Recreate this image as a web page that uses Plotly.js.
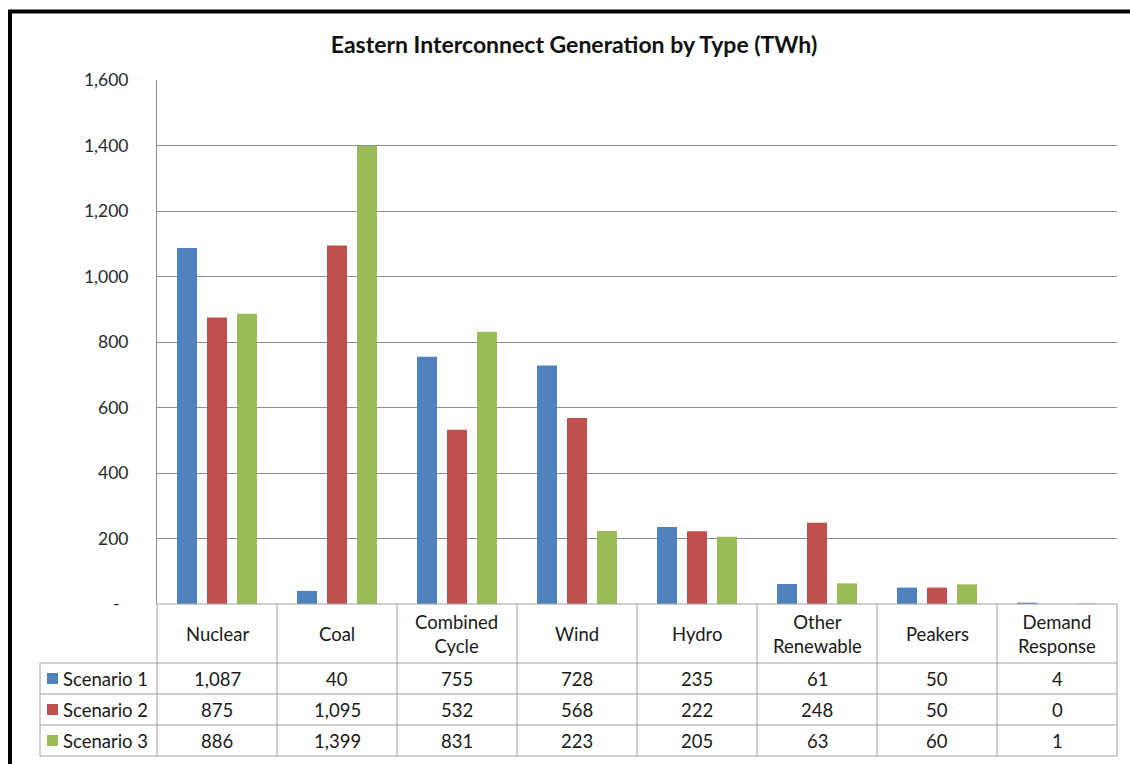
<!DOCTYPE html>
<html>
<head>
<meta charset="utf-8">
<script src="https://cdn.plot.ly/plotly-3.0.1.min.js"></script>
<style>
  html, body { margin: 0; padding: 0; background: #fff; }
  #chart { width: 1130px; height: 764px; }
</style>
</head>
<body>
<div id="chart"></div>
<script>
// Generation by resource type, TWh, for three scenarios
const categories = ["Nuclear", "Coal", "Combined Cycle", "Wind", "Hydro", "Other Renewable", "Peakers", "Demand Response"];
const headerLines = [["Nuclear"], ["Coal"], ["Combined", "Cycle"], ["Wind"], ["Hydro"], ["Other", "Renewable"], ["Peakers"], ["Demand", "Response"]];
const scenario1 = [1087, 40, 755, 728, 235, 61, 50, 4];
const scenario2 = [875, 1095, 532, 568, 222, 248, 50, 0];
const scenario3 = [886, 1399, 831, 223, 205, 63, 60, 1];
const seriesNames = ["Scenario 1", "Scenario 2", "Scenario 3"];
const yTickVals = [0, 200, 400, 600, 800, 1000, 1200, 1400, 1600];
const yTickText = ["-\u00a0\u00a0", "200", "400", "600", "800", "1,000", "1,200", "1,400", "1,600"];

const colors = ["#4F81BD", "#C0504D", "#9BBB59"];
const seriesValues = [scenario1, scenario2, scenario3];

const W = 1130, H = 764;
const px = x => x / W;
const py = y => 1 - y / H;

// plot frame and table geometry in pixels
const plotL = 157, plotR = 1117, plotT = 80, plotB = 604;
const colW = (plotR - plotL) / categories.length;
const rowLines = [604, 663, 694, 725, 756];
const tableL = 40;
const gridColor = "#8c8c8c";
const tableLine = "#a0a0a0";
const font = "Lato, 'Open Sans', sans-serif";
const textColor = "#1a1a1a";

const traces = seriesValues.map((vals, i) => ({
  type: "bar",
  name: seriesNames[i],
  x: categories,
  y: vals,
  marker: { color: colors[i] },
  hoverinfo: "x+y+name"
}));

const shapes = [];
const annotations = [];
const line = (x0, y0, x1, y1, color, width) => shapes.push({
  type: "line", xref: "paper", yref: "paper",
  x0: px(x0), y0: py(y0), x1: px(x1), y1: py(y1),
  line: { color: color, width: width }
});

// outer frame (top and left edges)
line(8, 11.5, W, 11.5, "#000", 4);
line(10, 10, 10, H, "#000", 4);

// table: horizontal rules
line(plotL, rowLines[0], plotR, rowLines[0], tableLine, 1);
for (let r = 1; r < rowLines.length; r++) line(tableL, rowLines[r], plotR, rowLines[r], tableLine, 1);
// table: vertical rules
line(tableL, rowLines[1], tableL, rowLines[4], tableLine, 1);
for (let c = 0; c <= categories.length; c++) {
  const x = plotL + c * colW;
  line(x, rowLines[0], x, rowLines[4], tableLine, 1);
}

// header labels
headerLines.forEach((lines, c) => {
  const cx = plotL + (c + 0.5) * colW;
  const cy = (rowLines[0] + rowLines[1]) / 2;
  annotations.push({
    xref: "paper", yref: "paper", x: px(cx), y: py(cy),
    text: lines.join("<br>"), showarrow: false,
    xanchor: "center", yanchor: "middle",
    font: { family: font, size: 18.5, color: textColor }
  });
});

// data rows with legend keys
seriesValues.forEach((vals, r) => {
  const cy = (rowLines[r + 1] + rowLines[r + 2]) / 2;
  shapes.push({
    type: "rect", xref: "paper", yref: "paper",
    x0: px(47), x1: px(58), y0: py(cy - 5.5), y1: py(cy + 5.5),
    fillcolor: colors[r], line: { width: 0 }
  });
  annotations.push({
    xref: "paper", yref: "paper", x: px(61), y: py(cy),
    text: seriesNames[r], showarrow: false,
    xanchor: "left", yanchor: "middle",
    font: { family: font, size: 18.5, color: textColor }
  });
  vals.forEach((v, c) => {
    annotations.push({
      xref: "paper", yref: "paper", x: px(plotL + (c + 0.5) * colW), y: py(cy),
      text: v.toLocaleString("en-US"), showarrow: false,
      xanchor: "center", yanchor: "middle",
      font: { family: font, size: 18.5, color: textColor }
    });
  });
});

const layout = {
  width: W, height: H,
  margin: { l: 0, r: 0, t: 0, b: 0 },
  paper_bgcolor: "#fff", plot_bgcolor: "#fff",
  showlegend: false,
  barmode: "group",
  bargap: 0.25,
  bargroupgap: 1 / 3,
  title: {
    text: "<b>Eastern Interconnect Generation by Type (TWh)</b>",
    x: px(574), xanchor: "center",
    y: py(45), yanchor: "middle",
    font: { family: font, size: 23, color: "#111" }
  },
  xaxis: {
    domain: [px(plotL), px(plotR)],
    type: "category",
    showticklabels: false,
    showgrid: false,
    zeroline: false,
    showline: false,
    ticks: ""
  },
  yaxis: {
    domain: [py(plotB), py(plotT)],
    range: [0, 1600],
    tickvals: yTickVals,
    ticktext: yTickText,
    ticks: "",
    ticklabelstandoff: 24,
    showgrid: true,
    gridcolor: gridColor,
    gridwidth: 1,
    zeroline: false,
    showline: true,
    linecolor: gridColor,
    linewidth: 1,
    tickfont: { family: font, size: 17.5, color: "#2a2a2a" }
  },
  shapes: shapes,
  annotations: annotations
};

Plotly.newPlot("chart", traces, layout, { displayModeBar: false, staticPlot: true });
</script>
</body>
</html>
